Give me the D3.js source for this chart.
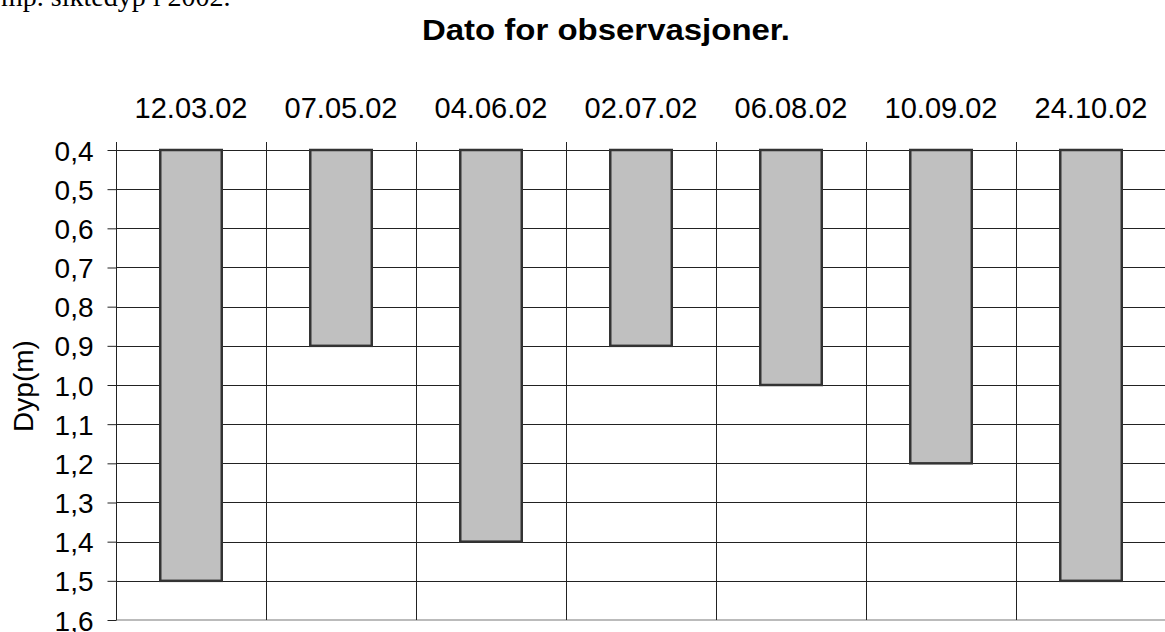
<!DOCTYPE html>
<html>
<head>
<meta charset="utf-8">
<script src="https://cdn.jsdelivr.net/npm/d3@7"></script>
<style>
  html, body { margin: 0; padding: 0; background: #fff; }
  svg { display: block; }
</style>
</head>
<body>
<script>
const categories = ["12.03.02", "07.05.02", "04.06.02", "02.07.02", "06.08.02", "10.09.02", "24.10.02"];
const depths = [1.5, 0.9, 1.4, 0.9, 1.0, 1.2, 1.5];
const yTicks = [0.4, 0.5, 0.6, 0.7, 0.8, 0.9, 1.0, 1.1, 1.2, 1.3, 1.4, 1.5, 1.6];
const titleText = "Dato for observasjoner.";
const yLabelText = "Dyp(m)";
const captionText = "mp. siktedyp i 2002.";

const W = 1165, H = 632;
const m = { left: 116, right: -1, top: 150, bottom: 12 };
const svg = d3.select("body").append("svg").attr("width", W).attr("height", H);

const x = d3.scaleBand().domain(categories).range([m.left, W - m.right]).padding(0);
const y = d3.scaleLinear().domain([0.4, 1.6]).range([m.top, H - m.bottom]);
const fmt = d3.formatLocale({ decimal: ",", thousands: " ", grouping: [3], currency: ["", ""] }).format(".1f");

// caption (cut off at the top, as in the source page)
svg.append("text").attr("x", 1).attr("y", 6)
  .attr("font-family", "Liberation Serif, Times New Roman, serif").attr("font-size", 28)
  .attr("fill", "#000").text(captionText);

// title
svg.append("text").attr("x", 606).attr("y", 39.5).attr("text-anchor", "middle")
  .attr("font-family", "Liberation Sans, Arial, sans-serif").attr("font-size", 30).attr("font-weight", "bold")
  .attr("textLength", 368).attr("lengthAdjust", "spacingAndGlyphs")
  .attr("fill", "#000").text(titleText);

// horizontal gridlines
const gridVals = yTicks.slice(0, -1);
svg.append("g").selectAll("line").data(gridVals).join("line")
  .attr("x1", m.left).attr("x2", W - m.right)
  .attr("y1", d => Math.round(y(d)) + 0.5).attr("y2", d => Math.round(y(d)) + 0.5)
  .attr("stroke", "#222").attr("stroke-width", 1);

// bottom border
svg.append("line").attr("x1", m.left).attr("x2", W - m.right)
  .attr("y1", y(1.6)).attr("y2", y(1.6)).attr("stroke", "#bbb").attr("stroke-width", 2);

// vertical category separators (with tick above top axis)
svg.append("g").selectAll("line").data(categories).join("line")
  .attr("x1", d => Math.round(x(d)) + 0.5).attr("x2", d => Math.round(x(d)) + 0.5)
  .attr("y1", m.top - 8).attr("y2", y(1.6))
  .attr("stroke", "#222").attr("stroke-width", 1);

// y axis ticks & labels
const yAxis = d3.axisLeft(y).tickValues(yTicks).tickFormat(fmt).tickSizeInner(9).tickSizeOuter(0).tickPadding(14);
const gy = svg.append("g").attr("transform", `translate(${m.left + 0.5},0)`).call(yAxis);
gy.select(".domain").remove();
gy.selectAll(".tick line").attr("stroke", "#222");
gy.selectAll(".tick text").attr("font-family", "Liberation Sans, Arial, sans-serif")
  .attr("font-size", 28).attr("fill", "#000").attr("dy", "0.36em");

// x axis labels (top)
const xAxis = d3.axisTop(x).tickSize(0).tickPadding(0);
const gx = svg.append("g").attr("transform", `translate(0,117.5)`).call(xAxis);
gx.select(".domain").remove();
gx.selectAll(".tick text").attr("font-family", "Liberation Sans, Arial, sans-serif")
  .attr("font-size", 29).attr("fill", "#000").attr("dy", 0).attr("y", 0);

// bars
const bw = x.bandwidth() * 0.41;
svg.append("g").selectAll("rect").data(categories).join("rect")
  .attr("x", d => x(d) + x.bandwidth() / 2 - bw / 2)
  .attr("y", y(0.4))
  .attr("width", bw)
  .attr("height", (d, i) => y(depths[i]) - y(0.4))
  .attr("fill", "#c0c0c0").attr("stroke", "#333").attr("stroke-width", 2.5);

// y label
svg.append("text").attr("transform", `translate(33,386) rotate(-90)`).attr("text-anchor", "middle")
  .attr("font-family", "Liberation Sans, Arial, sans-serif").attr("font-size", 28)
  .attr("fill", "#000").text(yLabelText);
</script>
</body>
</html>
